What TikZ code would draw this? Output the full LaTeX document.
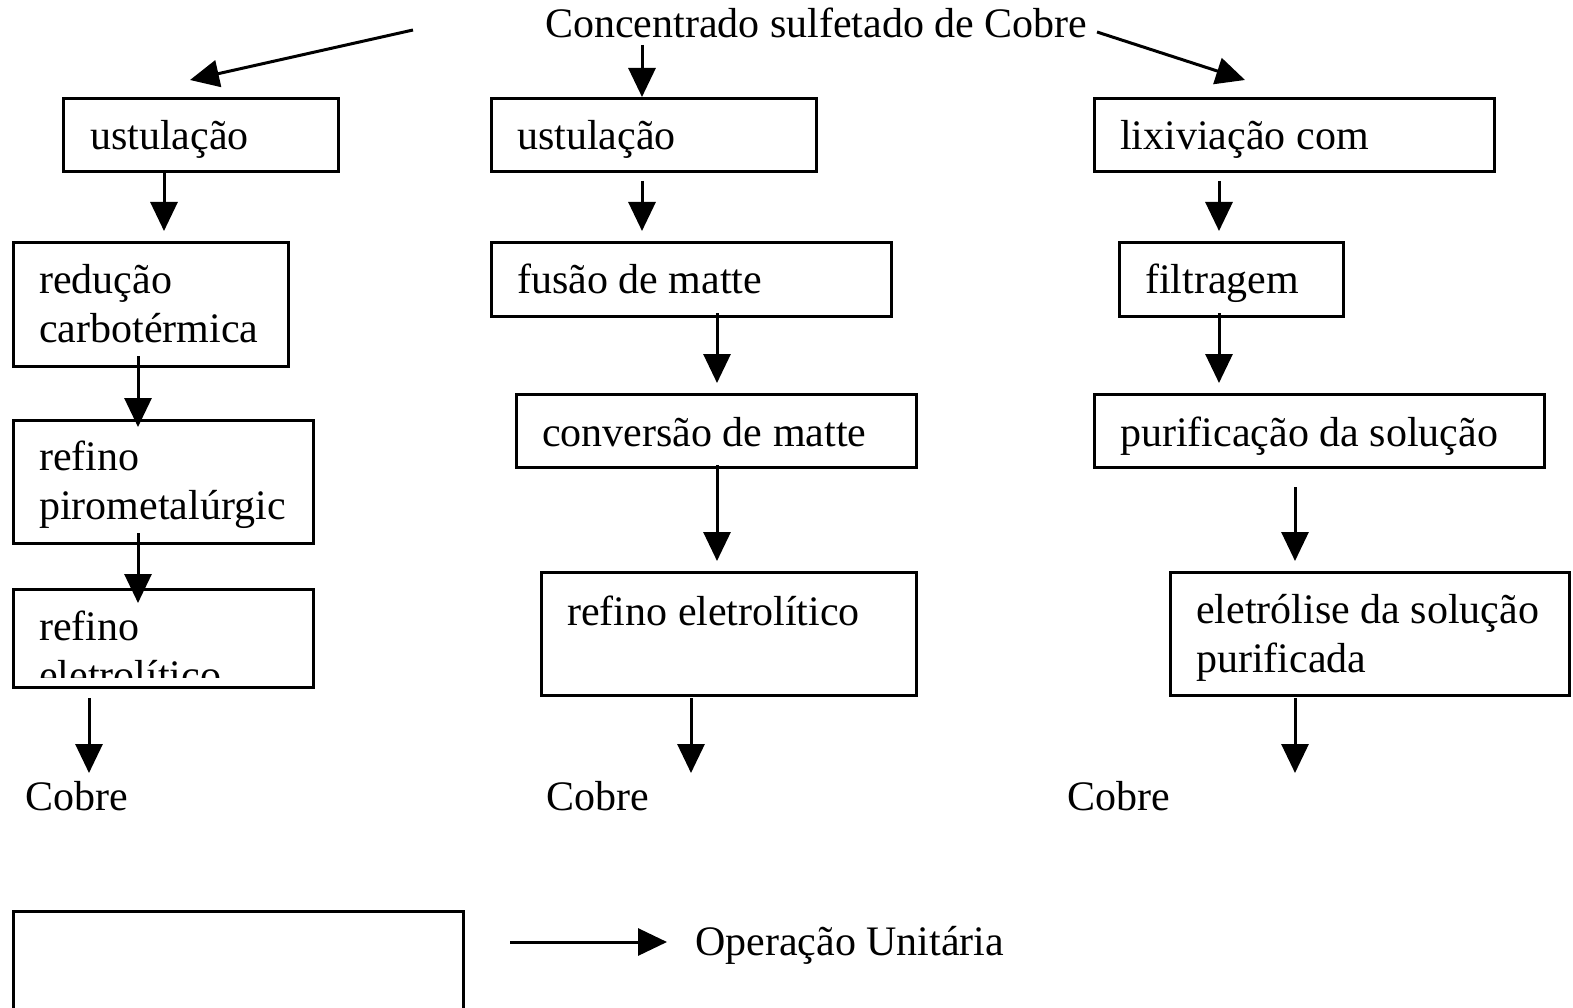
\documentclass[tikz,border=0pt]{standalone}
\usepackage{fontspec}
\setmainfont{Liberation Serif}
\usetikzlibrary{arrows.meta}
\tikzset{
  box/.style={draw, line width=3pt, anchor=north west, inner sep=0pt},
  txt/.style={anchor=base west, inner sep=0pt, align=left, font=\fontsize{42}{49}\selectfont},
  flow/.style={line width=3pt, -{Triangle[length=29pt,width=27pt]}},
}
\begin{document}
\begin{tikzpicture}[x=1pt,y=-1pt]
\useasboundingbox (0,0) rectangle (1573,1008);
\clip (0,0) rectangle (1573,1008);

			\node[txt] (title) at (545,38) {Concentrado sulfetado de Cobre};

			% rota A
			\node[box, minimum width=275, minimum height=73] (ustA) at (62,97) {};
				\node[txt] (ustAt) at ([shift={(28,53)}]ustA.north west) {ustulação};
			\node[box, minimum width=275, minimum height=124] (redA) at (12,241) {};
				\node[txt] (redAt) at ([shift={(27,101)}]redA.north west) {redução\\carbotérmica};
			\node[box, minimum width=300, minimum height=123] (pirA) at (12,419) {};
				\node[txt] (pirAt) at ([shift={(27,100)}]pirA.north west) {refino\\pirometalúrgic};
			\node[box, minimum width=300, minimum height=98] (eleA) at (12,588) {};
			\begin{scope}
				\clip (12,588) rectangle (312,677);
				\node[txt] (eleAt) at ([shift={(27,101)}]eleA.north west) {refino\\eletrolítico};
			\end{scope}
			\node[txt] (cobA) at (25,810) {Cobre};

			% rota B
			\node[box, minimum width=325, minimum height=73] (ustB) at (490,97) {};
				\node[txt] (ustBt) at ([shift={(27,53)}]ustB.north west) {ustulação};
			\node[box, minimum width=400, minimum height=74] (fusB) at (490,241) {};
				\node[txt] (fusBt) at ([shift={(27,53)}]fusB.north west) {fusão de matte};
			\node[box, minimum width=400, minimum height=73] (conB) at (515,393) {};
				\node[txt] (conBt) at ([shift={(27,53)}]conB.north west) {conversão de matte};
			\node[box, minimum width=375, minimum height=123] (refB) at (540,571) {};
				\node[txt] (refBt) at ([shift={(27,54)}]refB.north west) {refino eletrolítico};
			\node[txt] (cobB) at (546,810) {Cobre};

			% rota C
			\node[box, minimum width=400, minimum height=73] (lixC) at (1093,97) {};
				\node[txt] (lixCt) at ([shift={(27,53)}]lixC.north west) {lixiviação com};
			\node[box, minimum width=224, minimum height=74] (filC) at (1118,241) {};
				\node[txt] (filCt) at ([shift={(27,53)}]filC.north west) {filtragem};
			\node[box, minimum width=450, minimum height=73] (purC) at (1093,393) {};
				\node[txt] (purCt) at ([shift={(27,53)}]purC.north west) {purificação da solução};
			\node[box, minimum width=399, minimum height=123] (eleC) at (1169,571) {};
				\node[txt] (eleCt) at ([shift={(27,101)}]eleC.north west) {eletrólise da solução\\purificada};
			\node[txt] (cobC) at (1067,810) {Cobre};

			% legenda
			\node[box, minimum width=450, minimum height=140] (leg) at (12,910) {};
			\node[txt] (legt) at (695,955) {Operação Unitária};

			% pontas livres
			\coordinate (s0) at (413,30);	\coordinate (t0) at (190,80);
			\coordinate (s1) at (642,45);
			\coordinate (s2) at (1097,32);	\coordinate (t2) at (1245,80);
			\coordinate (a1) at (164,231);
			\coordinate (a2) at (138,427);
			\coordinate (a3) at (138,603);
			\coordinate (a4s) at (89,698);	\coordinate (a4) at (89,773);
			\coordinate (b1s) at (642,181);	\coordinate (b1) at (642,231);
			\coordinate (b2) at (717,383);
			\coordinate (b3) at (717,561);
			\coordinate (b4s) at (691,698);	\coordinate (b4) at (691,773);
			\coordinate (c1s) at (1219,181);	\coordinate (c1) at (1219,231);
			\coordinate (c2) at (1219,383);
			\coordinate (c3s) at (1295,487);	\coordinate (c3) at (1295,561);
			\coordinate (c4s) at (1295,698);	\coordinate (c4) at (1295,773);
			\coordinate (l1s) at (510,942);	\coordinate (l1) at (667,942);

			\draw[flow] (s0) -- (t0);
			\draw[flow] (s1) -- (s1 |- ustB.north);
			\draw[flow] (s2) -- (t2);

			\draw[flow] (ustA.south -| a1) -- (a1);
			\draw[flow] ([yshift=12pt]redA.south -| a2) -- (a2);
			\draw[flow] ([yshift=12pt]pirA.south -| a3) -- (a3);
			\draw[flow] (a4s) -- (a4);

			\draw[flow] (b1s) -- (b1);
			\draw[flow] ([yshift=5pt]fusB.south -| b2) -- (b2);
			\draw[flow] ([yshift=4pt]conB.south -| b3) -- (b3);
			\draw[flow] (b4s) -- (b4);

			\draw[flow] (c1s) -- (c1);
			\draw[flow] ([yshift=5pt]filC.south -| c2) -- (c2);
			\draw[flow] (c3s) -- (c3);
			\draw[flow] (c4s) -- (c4);

			\draw[flow] (l1s) -- (l1);
\end{tikzpicture}
\end{document}
